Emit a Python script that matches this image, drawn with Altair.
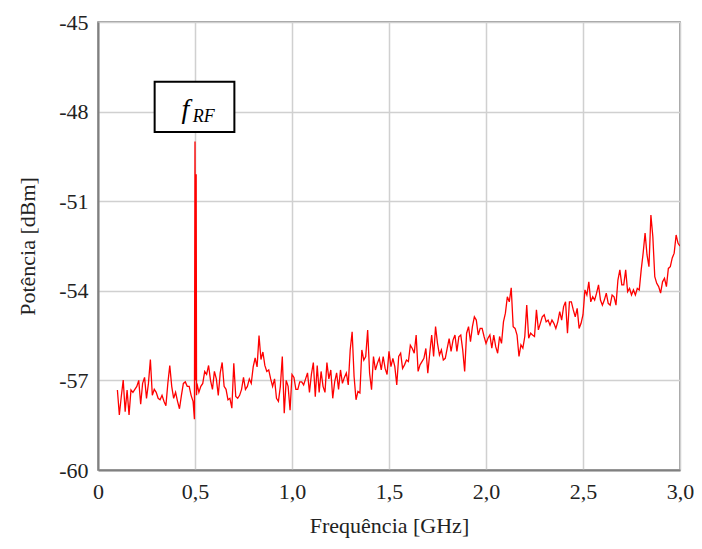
import altair as alt
import pandas as pd

# Spectrum samples: 0.10 GHz .. 3.00 GHz, 0.01 GHz step
start_ghz = 0.10
step_ghz = 0.01
power_dbm = [
    -57.32, -58.16, -57.54, -56.99, -58.05, -57.32, -58.16, -57.32, -57.40, -57.30,
    -57.20, -57.00, -57.80, -57.10, -56.90, -57.60, -57.10, -56.30, -57.50, -57.30,
    -57.40, -57.60, -57.65, -57.50, -57.70, -57.85, -57.10, -56.50, -57.20, -57.60,
    -57.40, -57.70, -57.95, -57.50, -57.10, -57.05, -57.20, -57.20, -57.50, -57.70,
    -49.00, -57.10, -57.40, -57.20, -57.10, -56.70, -56.80, -56.50, -57.00, -57.30,
    -56.70, -56.95, -57.50, -56.75, -56.40, -57.20, -57.30, -57.65, -57.60, -57.93,
    -56.43, -57.54, -57.60, -57.50, -57.30, -56.90, -57.30, -57.20, -56.95, -57.10,
    -56.55, -56.25, -56.55, -55.50, -56.30, -56.05, -56.50, -56.70, -56.65, -56.95,
    -57.20, -56.95, -57.60, -57.70, -57.20, -56.20, -58.10, -57.00, -57.20, -58.00,
    -56.80, -56.90, -57.30, -57.30, -57.05, -57.05, -57.15, -56.95, -56.75, -57.40,
    -56.80, -56.40, -57.55, -56.50, -57.40, -56.70, -57.20, -57.40, -56.40, -56.95,
    -56.65, -57.60, -57.05, -56.75, -57.30, -56.65, -57.10, -56.90, -56.75, -57.15,
    -55.98, -55.37, -56.87, -57.65, -57.37, -57.42, -55.98, -56.32, -56.20, -55.31,
    -56.76, -57.31, -56.20, -56.65, -56.43, -56.26, -56.65, -56.20, -56.60, -56.80,
    -56.03, -56.54, -56.26, -56.54, -57.15, -56.20, -56.09, -56.60, -56.48, -56.32,
    -56.37, -55.82, -55.93, -56.09, -55.48, -56.70, -56.48, -56.37, -56.26, -55.93,
    -56.76, -56.09, -55.48, -56.20, -55.20, -55.76, -56.15, -55.98, -56.32, -56.26,
    -55.93, -55.60, -56.03, -55.65, -55.48, -56.03, -55.54, -55.48, -55.98, -56.70,
    -55.42, -55.20, -55.70, -55.20, -54.87, -54.98, -55.48, -55.26, -55.26, -55.53,
    -55.76, -55.59, -55.48, -55.92, -55.48, -55.87, -56.09, -55.53, -55.76, -55.04,
    -54.75, -54.20, -54.37, -53.90, -55.20, -55.26, -55.48, -56.20, -55.81, -55.92,
    -55.53, -54.48, -55.59, -55.42, -55.48, -55.53, -54.64, -55.31, -55.09, -54.87,
    -54.80, -55.04, -54.98, -55.15, -54.98, -55.09, -55.26, -55.04, -54.70, -54.98,
    -54.53, -54.37, -55.42, -54.37, -54.37, -54.64, -54.87, -54.59, -55.26, -55.09,
    -54.80, -53.97, -54.14, -53.70, -54.37, -54.20, -54.31, -54.08, -53.80, -54.31,
    -54.48, -54.31, -54.08, -54.42, -54.48, -54.14, -54.20, -54.48, -53.64, -53.30,
    -53.80, -53.80, -53.30, -54.03, -53.92, -54.14, -53.97, -54.14, -53.92, -53.97,
    -53.30, -52.74, -52.07, -52.80, -53.19, -51.46, -52.19, -53.53, -53.75, -53.86,
    -54.08, -53.70, -53.58, -53.86, -53.25, -53.19, -52.90, -52.74, -52.13, -52.41,
    -52.50,
]

# extra samples around the carrier spike
spike_ghz = [0.497, 0.503, 0.506, 0.508]
spike_dbm = [-58.30, -57.00, -50.10, -57.50]

x_ticks = [0, 0.5, 1.0, 1.5, 2.0, 2.5, 3.0]
y_ticks = [-60, -57, -54, -51, -48, -45]

# annotation box (GHz / dBm)
box_x = [0.292]
box_x2 = [0.703]
box_y = [-47.0]
box_y2 = [-48.68]
label_main = ["f"]
label_main_pos = [(0.45, -47.95)]
label_sub = ["RF"]
label_sub_pos = [(0.545, -48.18)]

freq = [round(start_ghz + step_ghz * i, 3) for i in range(len(power_dbm))]
df = pd.DataFrame({"f": freq + spike_ghz, "p": power_dbm + spike_dbm}).sort_values("f")

xs = alt.Scale(domain=[0, 3], nice=False)
ys = alt.Scale(domain=[-60, -45], nice=False)

SERIF = "Liberation Serif"

line = alt.Chart(df).mark_line(color="#ff0000", strokeWidth=1.3, clip=True).encode(
    x=alt.X("f:Q", scale=xs,
            axis=alt.Axis(values=x_ticks, title="Frequência [GHz]",
                          labelExpr="datum.value == 0 ? '0' : replace(format(datum.value, '.1f'), '.', ',')",
                          labelPadding=11, titlePadding=13, labelFlush=False)),
    y=alt.Y("p:Q", scale=ys,
            axis=alt.Axis(values=y_ticks, title="Potência [dBm]", labelPadding=10,
                          labelExpr="toString(datum.value)",
                          titlePadding=19)),
)

box_df = pd.DataFrame({"x": box_x, "x2": box_x2, "y": box_y, "y2": box_y2})
box = alt.Chart(box_df).mark_rect(fill="white", stroke="black", strokeWidth=2).encode(
    x=alt.X("x:Q", scale=xs), x2="x2:Q", y=alt.Y("y:Q", scale=ys), y2="y2:Q"
)

t1 = pd.DataFrame({"t": label_main, "x": [p[0] for p in label_main_pos], "y": [p[1] for p in label_main_pos]})
t2 = pd.DataFrame({"t": label_sub, "x": [p[0] for p in label_sub_pos], "y": [p[1] for p in label_sub_pos]})
txt1 = alt.Chart(t1).mark_text(font=SERIF, fontStyle="italic", fontSize=28,
                               color="black", align="center", baseline="middle").encode(
    x=alt.X("x:Q", scale=xs), y=alt.Y("y:Q", scale=ys), text="t:N")
txt2 = alt.Chart(t2).mark_text(font=SERIF, fontStyle="italic", fontSize=18,
                               color="black", align="center", baseline="middle").encode(
    x=alt.X("x:Q", scale=xs), y=alt.Y("y:Q", scale=ys), text="t:N")

chart = alt.layer(line, box, txt1, txt2).properties(
    width=582, height=448,
    autosize="none",
    padding={"left": 90, "top": 14, "right": 14, "bottom": 71},
).configure_view(
    stroke="#808080", strokeWidth=1.5
).configure_axis(
    domainColor="#808080", domainWidth=2, ticks=False,
    gridColor="#d0d0d0", gridWidth=1.5,
    labelFont=SERIF, labelFontSize=22, labelColor="#222222",
    titleFont=SERIF, titleFontSize=22, titleFontWeight="normal", titleColor="#222222",
)

chart.save("out.html", embed_options={"renderer": "svg", "actions": False})
